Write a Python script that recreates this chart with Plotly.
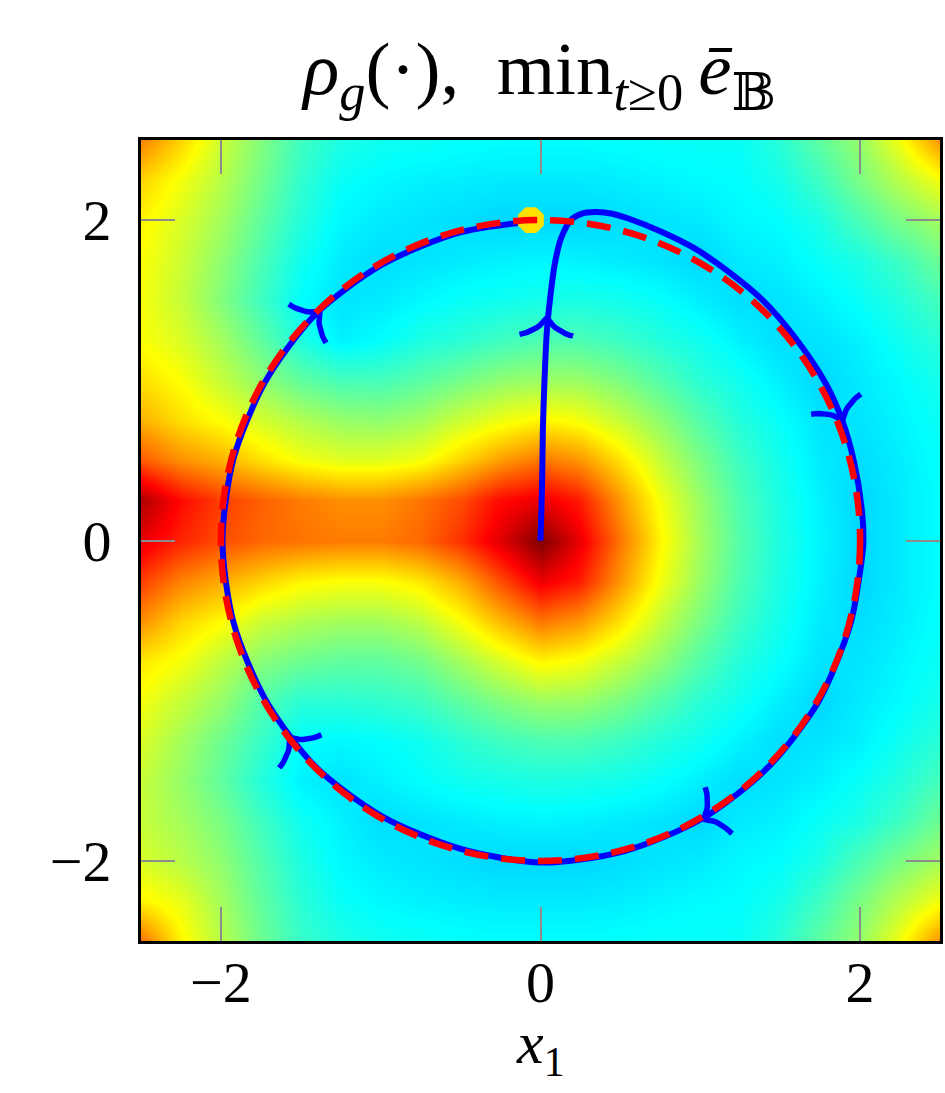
import numpy as np
import plotly.graph_objects as go

# grid of the colour field (x1, x2 from -2.5 to 2.5, step 0.25)
x_grid = [-2.5, -2.25, -2.0, -1.75, -1.5, -1.25, -1.0, -0.75, -0.5, -0.25, 0.0,
          0.25, 0.5, 0.75, 1.0, 1.25, 1.5, 1.75, 2.0, 2.25, 2.5]
y_grid = list(x_grid)

# values, one row per x2 value (bottom to top)
rho_rows = [
    [0.65, 0.45, 0.33, 0.22, 0.14, 0.10, 0.08, 0.075, 0.065, 0.06, 0.06, 0.06, 0.065, 0.07, 0.07, 0.07, 0.12, 0.20, 0.28, 0.42, 0.60],
    [0.45, 0.40, 0.30, 0.20, 0.12, 0.07, 0.05, 0.04, 0.035, 0.03, 0.03, 0.03, 0.035, 0.045, 0.055, 0.06, 0.09, 0.15, 0.24, 0.33, 0.42],
    [0.38, 0.33, 0.27, 0.18, 0.10, 0.05, 0.03, 0.02, 0.01, 0.0, 0.0, 0.0, 0.01, 0.02, 0.03, 0.05, 0.06, 0.10, 0.17, 0.24, 0.30],
    [0.35, 0.30, 0.24, 0.15, 0.08, 0.04, 0.01, 0.02, 0.03, 0.04, 0.045, 0.04, 0.03, 0.02, 0.0, 0.03, 0.04, 0.07, 0.10, 0.15, 0.22],
    [0.35, 0.28, 0.20, 0.11, 0.04, 0.02, 0.04, 0.06, 0.08, 0.09, 0.10, 0.095, 0.085, 0.065, 0.035, 0.01, 0.02, 0.04, 0.07, 0.11, 0.16],
    [0.38, 0.30, 0.22, 0.14, 0.06, 0.05, 0.06, 0.08, 0.12, 0.15, 0.17, 0.17, 0.145, 0.11, 0.08, 0.04, 0.01, 0.02, 0.04, 0.08, 0.12],
    [0.42, 0.35, 0.28, 0.18, 0.12, 0.12, 0.13, 0.15, 0.20, 0.25, 0.29, 0.285, 0.24, 0.18, 0.12, 0.08, 0.035, 0.0, 0.03, 0.055, 0.09],
    [0.47, 0.42, 0.34, 0.26, 0.22, 0.20, 0.20, 0.23, 0.30, 0.38, 0.45, 0.42, 0.35, 0.27, 0.18, 0.11, 0.065, 0.02, 0.02, 0.045, 0.075],
    [0.60, 0.50, 0.44, 0.36, 0.32, 0.30, 0.30, 0.34, 0.43, 0.54, 0.64, 0.59, 0.48, 0.35, 0.24, 0.145, 0.085, 0.03, 0.01, 0.035, 0.065],
    [0.72, 0.62, 0.56, 0.50, 0.45, 0.43, 0.43, 0.47, 0.56, 0.70, 0.84, 0.77, 0.59, 0.42, 0.285, 0.17, 0.095, 0.04, 0.0, 0.03, 0.06],
    [0.85, 0.76, 0.70, 0.66, 0.64, 0.63, 0.63, 0.66, 0.74, 0.86, 1.00, 0.84, 0.64, 0.45, 0.30, 0.18, 0.10, 0.045, 0.0, 0.03, 0.06],
    [0.93, 0.80, 0.72, 0.67, 0.63, 0.60, 0.60, 0.64, 0.70, 0.80, 0.84, 0.77, 0.59, 0.42, 0.285, 0.17, 0.095, 0.04, 0.0, 0.03, 0.06],
    [0.68, 0.60, 0.55, 0.48, 0.42, 0.39, 0.39, 0.42, 0.50, 0.58, 0.64, 0.59, 0.48, 0.35, 0.24, 0.145, 0.085, 0.03, 0.01, 0.035, 0.065],
    [0.55, 0.48, 0.43, 0.37, 0.32, 0.28, 0.27, 0.30, 0.36, 0.41, 0.45, 0.42, 0.35, 0.27, 0.18, 0.11, 0.065, 0.02, 0.02, 0.045, 0.075],
    [0.48, 0.43, 0.35, 0.27, 0.20, 0.16, 0.16, 0.19, 0.23, 0.27, 0.29, 0.285, 0.24, 0.18, 0.12, 0.08, 0.035, 0.0, 0.03, 0.055, 0.09],
    [0.43, 0.38, 0.30, 0.20, 0.10, 0.04, 0.06, 0.10, 0.12, 0.15, 0.17, 0.17, 0.145, 0.11, 0.08, 0.04, 0.01, 0.02, 0.04, 0.08, 0.12],
    [0.42, 0.35, 0.25, 0.15, 0.06, 0.02, 0.03, 0.05, 0.07, 0.08, 0.09, 0.095, 0.085, 0.065, 0.035, 0.01, 0.02, 0.04, 0.07, 0.11, 0.16],
    [0.43, 0.36, 0.27, 0.17, 0.08, 0.03, 0.01, 0.02, 0.03, 0.04, 0.045, 0.04, 0.03, 0.02, 0.0, 0.03, 0.04, 0.07, 0.10, 0.15, 0.22],
    [0.45, 0.38, 0.30, 0.20, 0.11, 0.05, 0.03, 0.02, 0.01, 0.0, 0.0, 0.0, 0.01, 0.02, 0.03, 0.05, 0.06, 0.10, 0.17, 0.24, 0.30],
    [0.50, 0.42, 0.33, 0.23, 0.13, 0.07, 0.05, 0.04, 0.035, 0.03, 0.03, 0.03, 0.035, 0.045, 0.055, 0.06, 0.09, 0.15, 0.24, 0.33, 0.42],
    [0.62, 0.50, 0.36, 0.25, 0.15, 0.10, 0.08, 0.075, 0.065, 0.06, 0.06, 0.06, 0.065, 0.07, 0.07, 0.07, 0.12, 0.20, 0.28, 0.42, 0.60],
]

# closed-loop trajectory, starting at the origin
traj_x = [0.0, 0.01, 0.015, 0.025, 0.04, 0.06, 0.09, 0.13, 0.19, 0.26, 0.34, 0.45, 0.55,
          0.75, 0.97, 1.18, 1.39, 1.59, 1.785, 1.89, 1.96, 2.01, 2.02, 1.99, 1.94, 1.74,
          1.42, 1.005, 0.52, 0.0, -0.515, -0.995, -1.41, -1.72, -1.92, -1.99, -1.92,
          -1.72, -1.41, -0.995, -0.515, -0.07]
traj_y = [0.0, 0.35, 0.7, 1.0, 1.31, 1.51, 1.73, 1.89, 2.0, 2.04, 2.05, 2.04, 2.01,
          1.93, 1.82, 1.675, 1.50, 1.27, 0.98, 0.745, 0.50, 0.2, -0.02, -0.26, -0.52, -1.005,
          -1.42, -1.74, -1.94, -2.01, -1.92, -1.72, -1.41, -0.995, -0.515, 0.0, 0.515,
          0.995, 1.41, 1.72, 1.92, 1.99]

# arrow heads: tip position and heading (deg) of motion
arrow_x = [0.04, 1.89, 1.02, -1.57, -1.38]
arrow_y = [1.39, 0.75, -1.74, -1.23, 1.43]
arrow_dir = [88, -68, 210, 128, 44]

end_x, end_y = [-0.06], [2.0]
ref_radius = 2.0

# upper part of the jet map (min value shows as cyan)
jet_top = [[0.0, 'rgb(0,215,255)'], [0.0587, 'rgb(0,255,255)'], [0.435, 'rgb(255,255,0)'],
           [0.812, 'rgb(255,0,0)'], [1.0, 'rgb(128,0,0)']]

BLUE = 'rgb(0,0,255)'
SERIF = 'Liberation Serif, DejaVu Serif, serif'


def arrow_arms(x0, y0, heading, length=0.2):
    # two slightly curved barbs, drawn as quadratic curves from the tip
    back = np.radians(heading + 180)
    t = np.linspace(0, 1, 10)
    xs, ys = [], []
    for sgn in (1, -1):
        c = back + sgn * np.radians(33)
        e = back + sgn * np.radians(57)
        cx, cy = x0 + 0.5 * length * np.cos(c), y0 + 0.5 * length * np.sin(c)
        ex, ey = x0 + length * np.cos(e), y0 + length * np.sin(e)
        xs += list((1 - t) ** 2 * x0 + 2 * (1 - t) * t * cx + t ** 2 * ex) + [None]
        ys += list((1 - t) ** 2 * y0 + 2 * (1 - t) * t * cy + t ** 2 * ey) + [None]
    return xs, ys


fig = go.Figure()
fig.add_trace(go.Heatmap(x=x_grid, y=y_grid, z=rho_rows, zsmooth='best', colorscale=jet_top,
                         zmin=0, zmax=1, showscale=False, hoverinfo='skip'))
fig.add_trace(go.Scatter(x=traj_x, y=traj_y, mode='lines',
                         line=dict(color=BLUE, width=6, shape='spline', smoothing=0.8),
                         hoverinfo='skip'))
for ax_, ay_, ad_ in zip(arrow_x, arrow_y, arrow_dir):
    bx, by = arrow_arms(ax_, ay_, ad_)
    fig.add_trace(go.Scatter(x=bx, y=by, mode='lines', line=dict(color=BLUE, width=5.5),
                             hoverinfo='skip'))
fig.add_trace(go.Scatter(x=end_x, y=end_y, mode='markers',
                         marker=dict(symbol='octagon', size=28, color='rgb(255,225,0)', line_width=0),
                         hoverinfo='skip'))

# reference circle
fig.add_shape(type='circle', x0=-ref_radius, y0=-ref_radius, x1=ref_radius, y1=ref_radius,
              line=dict(color='rgb(255,0,0)', width=6.5, dash='24px,13px'), layer='above')

axis_style = dict(range=[-2.5, 2.5], tickvals=[-2, 0, 2], ticks='inside', ticklen=34, tickwidth=2,
                  tickcolor='#8c8c8c', showline=True, linecolor='black', linewidth=3, mirror='allticks',
                  showgrid=False, zeroline=False, tickfont=dict(family=SERIF, size=58, color='black'))

title_txt = ('<i>ρ</i><sub><i>g</i></sub>(·),\u2002min<sub><i>t</i>≥0</sub>\u2009'
             '<i>ē</i><sub>𝔹</sub>')

fig.update_layout(
    width=945, height=1093,
    margin=dict(l=141, r=2, t=140, b=152),
    paper_bgcolor='white', plot_bgcolor='white',
    showlegend=False,
    title=dict(text=title_txt, x=0.571, xanchor='center', y=0.938, yanchor='middle',
               font=dict(family=SERIF, size=75, color='black')),
    xaxis=dict(axis_style, ticklabelstandoff=-12),
    yaxis=dict(axis_style, ticklabelstandoff=15),
)
fig.add_annotation(text='<i>x</i><sub>1</sub>', xref='paper', yref='paper', x=0.5, y=-0.133,
                   xanchor='center', yanchor='middle', showarrow=False,
                   font=dict(family=SERIF, size=60, color='black'))

# page body margin off so the figure sits at the window corner
fig.write_html("out.html", config={'displayModeBar': False},
               post_script="document.body.style.margin='0';")
